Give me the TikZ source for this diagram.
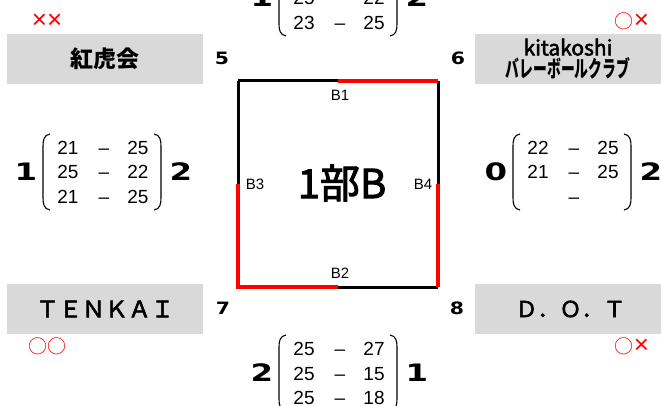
\documentclass[tikz,border=0pt]{standalone}
\usepackage{fontspec}
\setmainfont{Liberation Sans}
\newfontfamily\jp{Noto Sans CJK JP}
\newfontfamily\jpm{Noto Sans CJK JP}[FakeBold=2.5]
\newfontfamily\heavy{DejaVu Sans}
\definecolor{boxgray}{HTML}{D9D9D9}
\definecolor{mred}{HTML}{FF0000}
\newcommand\xm{{\fontsize{26}{26}\selectfont ×}}
\newcommand\om{{\jp\fontsize{19}{19}\selectfont ○}}
\tikzset{
  teambox/.style={fill=boxgray, draw=none, minimum height=50pt, inner sep=0pt, align=center},
  score/.style={font=\fontsize{19}{19}\selectfont, inner sep=0pt, anchor=base},
  setnum/.style={font=\heavy\bfseries\fontsize{24}{24}\selectfont, inner sep=0pt},
  seednum/.style={font=\heavy\bfseries\fontsize{17}{17}\selectfont, inner sep=0pt},
  resmark/.style={text=mred, inner sep=0pt},
  courtlbl/.style={font=\fontsize{15}{15}\selectfont, inner sep=0pt},
  paren/.style={line width=1.1pt},
  blackedge/.style={line width=3pt, black},
  rededge/.style={line width=4pt, mred},
}
\newcommand\scoreset[6]{%
  \begin{scope}[shift={(#2,#3)}]
    \node[setnum] (#1-l) at (-17,0) {\scalebox{1.35}[1]{#4}};
    \node[setnum] (#1-r) at (138,0) {\scalebox{1.35}[1]{#5}};
    \draw[paren] (7,-38) .. controls (1,-37) and (0,-32) .. (0,-26) -- (0,26) .. controls (0,32) and (1,37) .. (7,38);
    \draw[paren] (111,-38) .. controls (117,-37) and (118,-32) .. (118,-26) -- (118,26) .. controls (118,32) and (117,37) .. (111,38);
    \foreach \a/\b/\d [count=\i] in {#6} {
      \node[score] (#1-a\i) at (25,{(\i-2)*24.5+7}) {\a};
      \node[score] (#1-d\i) at (61,{(\i-2)*24.5+7}) {\d};
      \node[score] (#1-b\i) at (95,{(\i-2)*24.5+7}) {\b};
    }
  \end{scope}}
\begin{document}
\begin{tikzpicture}[x=1pt,y=-1pt]
  \useasboundingbox (0,0) rectangle (661,406);
  \clip (0,0) rectangle (661,406);
  % team boxes
  \node[teambox, minimum width=196pt, font=\jp\bfseries\fontsize{23}{23}\selectfont] (t5) at (105,59) {紅虎会};
  \node[teambox, minimum width=186pt, font=\jpm\fontsize{21}{24}\selectfont] (t6) at (568,59)
     {kitakoshi\\[-2pt]\scalebox{0.6}[1]{\jp\bfseries\fontsize{23}{23}\selectfont バレーボールクラブ}};
  \node[teambox, minimum width=196pt, font=\jpm\fontsize{23}{23}\selectfont] (t7) at (105,309) {ＴＥＮＫＡＩ};
  \node[teambox, minimum width=186pt, font=\jpm\fontsize{22}{22}\selectfont] (t8) at (568,309) {\hspace{5pt}Ｄ．Ｏ．Ｔ};
  % seeds
  \node[seednum] (s5) at (222,58) {\scalebox{1.2}[1]{5}};
  \node[seednum] (s6) at (458,58) {\scalebox{1.2}[1]{6}};
  \node[seednum] (s7) at (223,308) {\scalebox{1.2}[1]{7}};
  \node[seednum] (s8) at (457,308) {\scalebox{1.2}[1]{8}};
  % result marks
  \node[resmark] (m5) at (47,21) {\xm\xm};
  \node[resmark] (m6) at (632,21) {\om\xm};
  \node[resmark] (m7) at (47,346) {\om\om};
  \node[resmark] (m8) at (632,346) {\om\xm};
  % court
  \coordinate (TL) at (238,81);
  \coordinate (TR) at (438,81);
  \coordinate (BL) at (238,287);
  \coordinate (BR) at (438,287);
  \coordinate (TM) at (338,81);
  \coordinate (BM) at (338,287);
  \coordinate (LM) at (238,184);
  \coordinate (RM) at (438,184);
  \draw[blackedge] (TL) -- (TM);
  \draw[blackedge] (TL) -- (LM);
  \draw[blackedge] (TR) -- (RM);
  \draw[blackedge] (BM) -- (BR);
  \draw[rededge] (TM) -- (TR);
  \draw[rededge] (LM) -- (BL) -- (BM);
  \draw[rededge] (RM) -- (BR);
  \node[courtlbl] (b1) at (340,95) {B1};
  \node[courtlbl] (b2) at (340,273) {B2};
  \node[courtlbl] (b3) at (255,184) {B3};
  \node[courtlbl] (b4) at (423,184) {B4};
  \node[font=\jpm\fontsize{40}{40}\selectfont, inner sep=0pt] (title) at (342,183) {1部B};
  % scores
  \scoreset{left}{43}{172}{1}{2}{21/25/–, 25/22/–, 21/25/–}
  \scoreset{right}{513}{172}{0}{2}{22/25/–, 21/25/–, \mbox{}/\mbox{}/–}
  \scoreset{bottom}{279}{373}{2}{1}{25/27/–, 25/15/–, 25/18/–}
  \scoreset{top}{279}{-2}{1}{2}{\mbox{}/\mbox{}/\mbox{}, 25/22/–, 23/25/–}
\end{tikzpicture}
\end{document}
